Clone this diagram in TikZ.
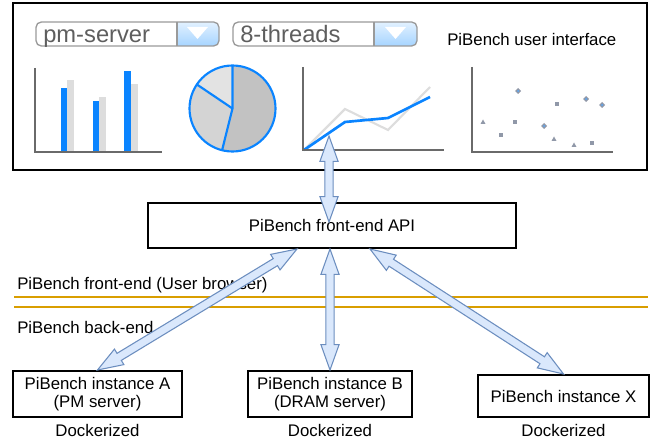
\documentclass[tikz,border=0pt]{standalone}
\usepackage{fontspec}
\setmainfont{Liberation Sans}
\usepackage{xcolor}
\usepackage{tikz}
\usetikzlibrary{calc}
\definecolor{blu}{HTML}{0A84FF}
\definecolor{gry}{HTML}{DDDDDD}
\definecolor{axs}{HTML}{6A6A6A}
\definecolor{orn}{HTML}{D99E00}
\definecolor{afill}{HTML}{DAE8FC}
\definecolor{aedge}{HTML}{6C8EBF}
\definecolor{ddedge}{HTML}{9A9A9A}
\definecolor{ddtext}{HTML}{5E5E5E}
\definecolor{btnt}{HTML}{E2F1FF}
\definecolor{btnb}{HTML}{A6D4FF}
\definecolor{mrk}{HTML}{9098A8}
\definecolor{pie1}{HTML}{C2C2C2}
\definecolor{pie2}{HTML}{D4D4D4}
\definecolor{pie3}{HTML}{E3E3E3}

% fat double arrow between two points
\newcommand{\ahl}{19pt}
\newcommand{\ahw}{6.8pt}
\newcommand{\asw}{3.1pt}
\newcommand{\fatarrow}[2]{%
  \filldraw[Fat arrow] (#1)
    -- ($($(#1)!\ahl!(#2)$)!\ahw!90:(#2)$)
    -- ($($(#1)!\ahl!(#2)$)!\asw!90:(#2)$)
    -- ($($(#2)!\ahl!(#1)$)!\asw!-90:(#1)$)
    -- ($($(#2)!\ahl!(#1)$)!\ahw!-90:(#1)$)
    -- (#2)
    -- ($($(#2)!\ahl!(#1)$)!\ahw!90:(#1)$)
    -- ($($(#2)!\ahl!(#1)$)!\asw!90:(#1)$)
    -- ($($(#1)!\ahl!(#2)$)!\asw!-90:(#2)$)
    -- ($($(#1)!\ahl!(#2)$)!\ahw!-90:(#2)$)
    -- cycle;}

\begin{document}
\begin{tikzpicture}
    [x=0.75pt, y=-0.75pt,
     Box ui/.style={draw, line width=2pt, inner sep=0pt, minimum width=475.5pt, minimum height=125.25pt},
     Box/.style={draw, line width=1.5pt, fill=white, inner sep=0pt, align=center,
                 font=\fontsize{12.6}{13.9}\selectfont},
     Txt/.style={inner sep=0pt, font=\fontsize{12.6}{13.9}\selectfont},
     Drop box/.style={draw=ddedge, line width=1pt, rounded corners=4pt},
     Drop text/.style={inner sep=0pt, anchor=base west, text=ddtext, font=\fontsize{17.8}{20}\selectfont},
     Axis/.style={draw=axs, line width=1.5pt},
     Sep line/.style={draw=orn, line width=2pt},
     Fat arrow/.style={draw=aedge, fill=afill, line width=0.8pt, line join=miter},
     >=stealth
    ]
\useasboundingbox (0,0) rectangle (652,441);

%user interface frame
\node[Box ui] (ui) at (330,86.5) {};

%drop downs
\begin{scope}
\clip[rounded corners=4pt] (36,22) rectangle (219,46);
\shade[top color=btnt, bottom color=btnb] (177,22) rectangle (219,46);
\end{scope}
\draw[Drop box] (36,22) rectangle (219,46);
\draw[ddedge, line width=1pt] (177,22) -- (177,46);
\fill[white] (187,27) -- (208,27) -- (197.5,39) -- cycle;
\node[Drop text] (server) at (43,43) {pm-server};

\begin{scope}
\clip[rounded corners=4pt] (233,22) rectangle (417,46);
\shade[top color=btnt, bottom color=btnb] (374,22) rectangle (417,46);
\end{scope}
\draw[Drop box] (233,22) rectangle (417,46);
\draw[ddedge, line width=1pt] (374,22) -- (374,46);
\fill[white] (385,27) -- (406,27) -- (395.5,39) -- cycle;
\node[Drop text] (threads) at (240,43) {8-threads};

\node[Txt, anchor=base west] (uilabel) at (447,45.5) {PiBench user interface};

%bar chart
\fill[blu] (61,88) rectangle (67,152);
\fill[gry] (67,80) rectangle (74,152);
\fill[blu] (93,101) rectangle (99,152);
\fill[gry] (99,97) rectangle (106,152);
\fill[blu] (124,71) rectangle (131,152);
\fill[gry] (131,84) rectangle (138,152);
\draw[Axis] (35,68) -- (35,152) -- (162,152);

%pie chart
\coordinate (pc) at (232.5,108.5);
\fill[pie1] (pc) -- ($(pc)+(-90:43)$) arc[start angle=-90, end angle=104, radius=43] -- cycle;
\fill[pie2] (pc) -- ($(pc)+(104:43)$) arc[start angle=104, end angle=214, radius=43] -- cycle;
\fill[pie3] (pc) -- ($(pc)+(214:43)$) arc[start angle=214, end angle=270, radius=43] -- cycle;
\draw[blu, line width=1.6pt] (pc) circle[radius=43];
\draw[blu, line width=1.6pt] ($(pc)+(-90:43)$) -- (pc) -- ($(pc)+(104:43)$);
\draw[blu, line width=1.6pt] (pc) -- ($(pc)+(214:43)$);

%line chart
\draw[gry, line width=1.6pt] (304,150) -- (345,109) -- (388,130) -- (430,87);
\draw[blu, line width=2pt] (304,150) -- (345,122) -- (388,118) -- (430,97);
\draw[Axis] (303,67) -- (303,150) -- (444,150);

%scatter chart
\foreach \px/\py in {518/91, 586/99, 602/105, 544/126}
  {\fill[mrk] (\px-3,\py) -- (\px,\py-3) -- (\px+3,\py) -- (\px,\py+3) -- cycle;
   \fill[blu!70] (\px,\py) circle[radius=1];}
\foreach \px/\py in {557/104, 515/122, 501/135, 592/143}
  {\fill[mrk] (\px-2,\py-2) rectangle (\px+2,\py+2);}
\foreach \px/\py in {483/122, 554/139, 574/145}
  {\fill[mrk] (\px-2.5,\py+2) -- (\px,\py-2.5) -- (\px+2.5,\py+2) -- cycle;}
\draw[Axis] (472,67) -- (472,152) -- (613,152);

%front-end api
\node[Box, minimum width=276pt, minimum height=33.75pt] (api) at (332,225.5) {PiBench front-end API};

%front-end / back-end split
\node[Txt, anchor=base west] (felabel) at (17,289) {PiBench front-end (User browser)};
\draw[Sep line] (14,297) -- (648,297);
\draw[Sep line] (14,307) -- (648,307);
\node[Txt, anchor=base west] (belabel) at (17,333) {PiBench back-end};

%instances
\node[Box, minimum width=126.75pt, minimum height=34.5pt] (instA) at (97.5,394) {PiBench instance A\\(PM server)};
\node[Box, minimum width=123pt, minimum height=34.5pt] (instB) at (330,394) {PiBench instance B\\(DRAM server)};
\node[Box, minimum width=128.25pt, minimum height=31.5pt] (instX) at (563.5,396) {PiBench instance X};

\node[Txt, anchor=base] (dockA) at ($(instA.south)+(0,18)$) {Dockerized};
\node[Txt, anchor=base] (dockB) at ($(instB.south)+(0,18)$) {Dockerized};
\node[Txt, anchor=base] (dockX) at ($(instX.south)+(0,18)$) {Dockerized};

%arrows
\coordinate (uitip) at (329,136);
\coordinate (apitip) at (329,222);
\coordinate (apiA) at ($(api.south)+(-35,0)$);
\coordinate (apiB) at (instB.north |- api.south);
\coordinate (apiX) at ($(api.south)+(38,0)$);
\fatarrow{uitip}{apitip}
\fatarrow{apiA}{instA.north}
\fatarrow{apiB}{instB.north}
\fatarrow{apiX}{instX.north}

\end{tikzpicture}
\end{document}
